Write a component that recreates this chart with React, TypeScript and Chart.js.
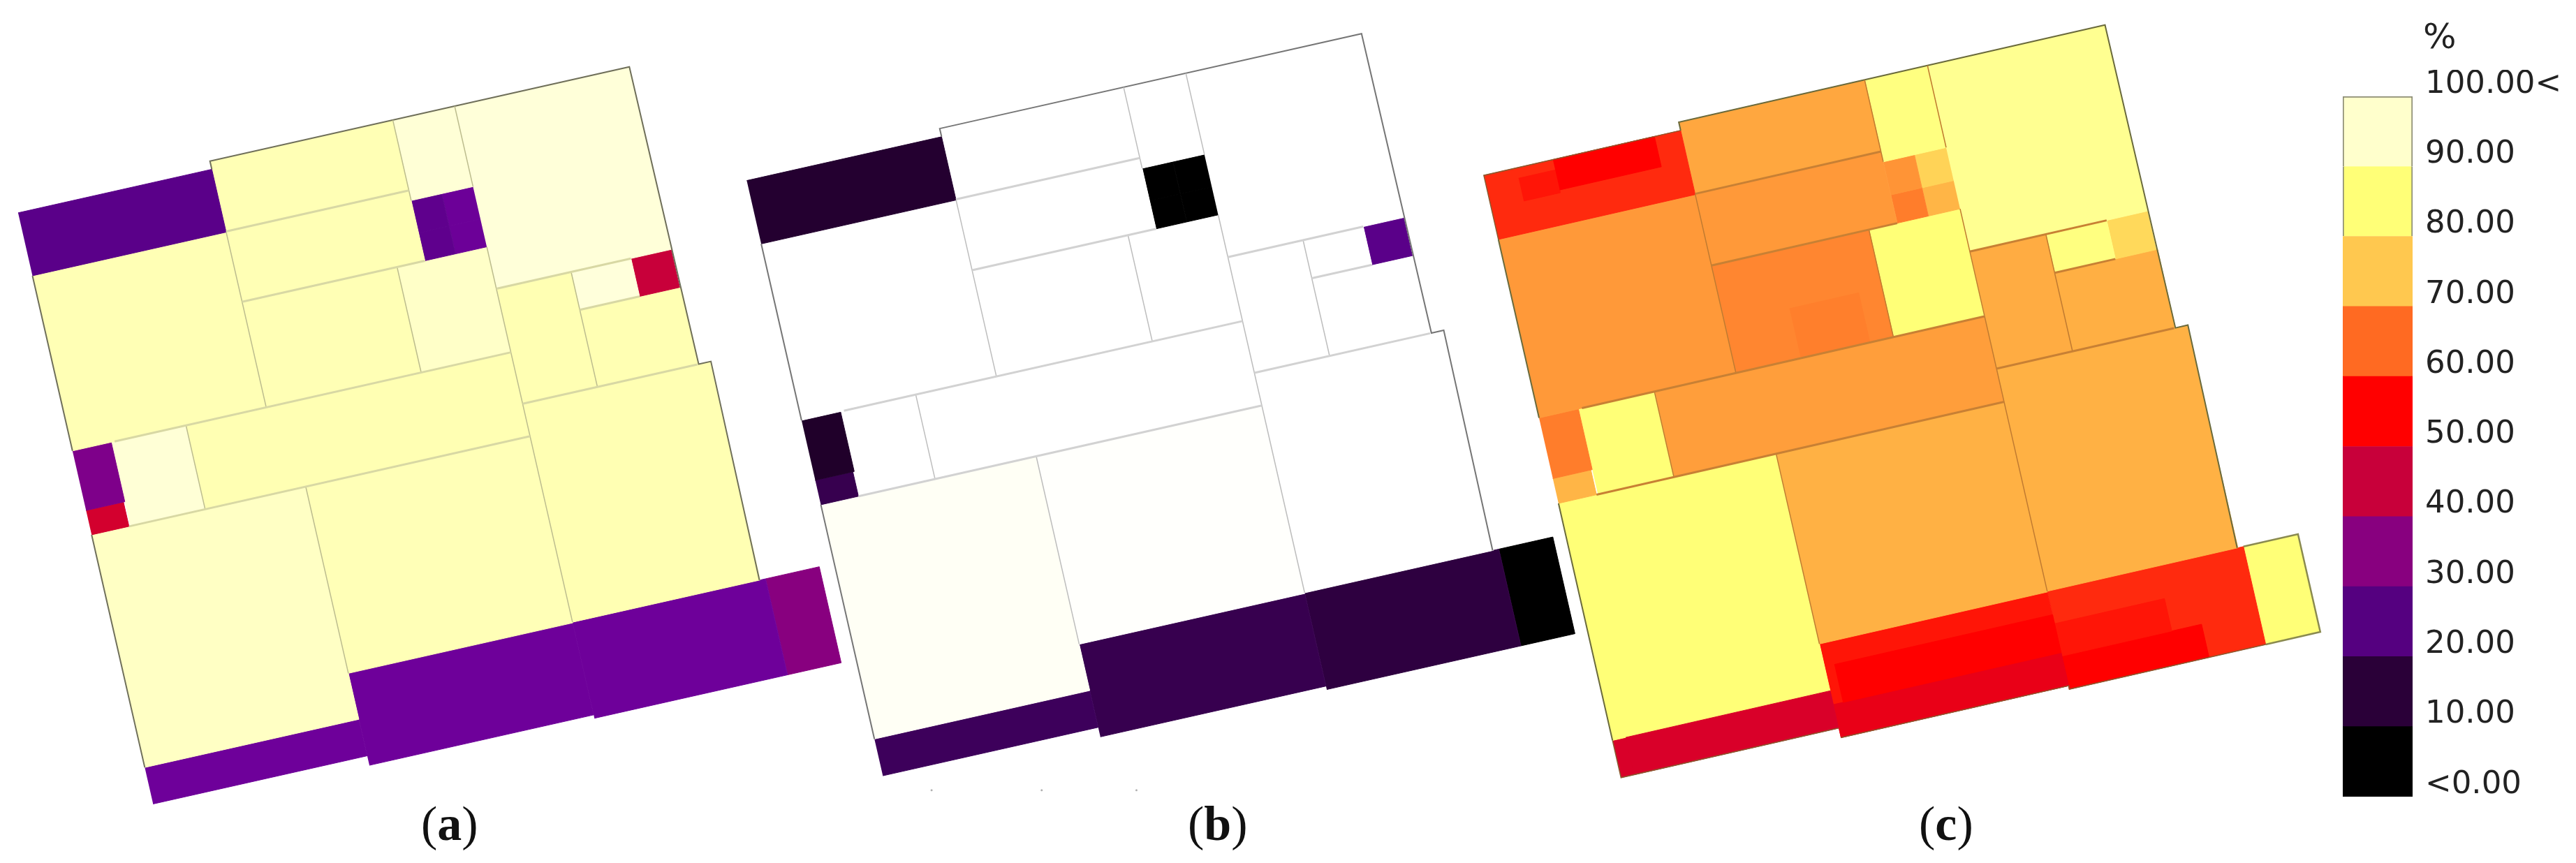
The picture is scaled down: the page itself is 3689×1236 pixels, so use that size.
import React, { useEffect, useRef } from "react";
import { Chart, registerables } from "chart.js";

Chart.register(...registerables);

const W = 3689;
const H = 1236;

// Floor-plan rooms in plan units: [u0, v0, u1, v1]
const rooms: number[][] = [
  [1, 0, 286, 93],
  [286, -12, 555, 92],
  [555, -12, 646, 107],
  [646, -12, 903, 258],
  [286, 92, 555, 196],
  [555, 107, 600, 155],
  [555, 155, 600, 196],
  [600, 107, 646, 155],
  [600, 155, 646, 196],
  [1, 93, 286, 352],
  [286, 196, 514, 352],
  [514, 196, 646, 352],
  [646, 258, 756, 428],
  [756, 258, 844, 314],
  [844, 258, 903, 314],
  [756, 314, 905, 428],
  [1, 352, 58, 440],
  [1, 440, 56, 476],
  [58, 352, 168, 476],
  [168, 352, 646, 476],
  [1, 476, 316, 820],
  [316, 476, 646, 752],
  [646, 428, 922, 751],
  [1, 820, 316, 874],
  [316, 752, 646, 888],
  [646, 751, 930, 893],
  [930, 751, 1009, 893],
];

// Percent value of each room, one list per panel
const valuesA = [21, 87.3, 92, 92.5, 87.3, 22, 22, 24.5, 24.5, 87.3, 87.3, 89.5, 87, 93, 40, 87, 28, 42, 92, 87, 89, 87.5, 87, 25, 25, 25, 30];
const valuesB = [8.5, 100, 100, 100, 100, 0, 0, 0, 0, 100, 100, 100, 100, 100, 21, 100, 7.5, 13, 100, 100, 98, 99.5, 100, 14.5, 13, 11, 0];
const valuesC = [54, 66.5, 81, 83, 65, 64.5, 62, 72, 68, 65, 63, 80, 67, 81, 73, 67.3, 62, 68, 80, 65.5, 80, 67.5, 67.5, 43, 52, 54, 80];

// Slightly different zones inside rooms of panel (c): [u0, v0, u1, v1, value]
const patchesC: number[][] = [
  [101, 0, 248, 44, 50],
  [48, 15, 101, 48, 52],
  [380, 280, 480, 352, 62.2],
  [20, 820, 316, 874, 43],
  [330, 785, 646, 840, 50],
  [316, 840, 646, 888, 46],
  [645, 798, 805, 845, 52],
  [645, 845, 848, 893, 50],
];

// Walls in plan units
const outerLines: number[][][] = [
  [[286, 0], [286, -12], [903, -12], [905, 428], [923, 428], [921, 751]],
  [[1, 93], [1, 352]],
  [[1, 476], [1, 820]],
];
const extraOutlinesC: number[][][] = [
  [[1, 93], [1, 0], [286, 0]],
  [[1, 820], [1, 874], [316, 874]],
  [[316, 888], [646, 888], [646, 893], [930, 893]],
];
const endOutlineC: number[][] = [[930, 751], [1009, 751], [1009, 893], [930, 893]];
const crossWalls: number[][] = [
  [286, 92, 555, 92],
  [286, 196, 555, 196],
  [63, 352, 646, 352],
  [56, 476, 646, 476],
  [646, 258, 844, 258],
  [756, 314, 844, 314],
  [646, 428, 903, 428],
];
const alongWalls: number[][] = [
  [286, 93, 286, 352],
  [555, -12, 555, 107],
  [646, -12, 646, 107],
  [646, 196, 646, 751],
  [514, 196, 514, 352],
  [168, 352, 168, 476],
  [756, 258, 756, 428],
  [316, 476, 316, 752],
];

// Where each plan sits on the page: origin, u axis, v axis
const panels = [
  { values: valuesA, o: [21, 303], eu: [0.9755, -0.2203], ev: [0.2217, 0.975], outer: "#6f6f5a", cross: "#d8d8a4", along: "#bcbc8e" },
  { values: valuesB, o: [1066.7, 256.5], eu: [0.9812, -0.2217], ev: [0.2235, 0.9817], outer: "#757575", cross: "#d2d2d2", along: "#bdbdbd" },
  { values: valuesC, o: [2124.5, 249], eu: [0.9914, -0.2271], ev: [0.2253, 0.9934], outer: "#6a6a3c", cross: "#c88034", along: "#c07a30" },
];

// Colour ramp
const rampValues = [0, 10, 20, 25, 30, 40, 50, 60, 70, 80, 90, 100];
const rampColors = [
  [0, 0, 0], [42, 0, 56], [85, 0, 133], [110, 0, 154], [136, 0, 127], [200, 0, 58],
  [255, 0, 0], [255, 106, 34], [255, 200, 79], [255, 255, 119], [255, 255, 204], [255, 255, 255],
];

// Legend
const legendSteps = [10, 10, 10, 10, 10, 10, 10, 10, 10, 10];
const legendColors = ["#000000", "#2a0038", "#550080", "#88007f", "#c8003a", "#ff0000", "#ff6a22", "#ffc84f", "#ffff77", "#ffffcc"];
const legendTicks = ["<0.00", "10.00", "20.00", "30.00", "40.00", "50.00", "60.00", "70.00", "80.00", "90.00", "100.00<"];

// Faint specks under panel (b), in page units
const specksX = [1333, 1491, 1627];
const specksY = [1135, 1135, 1135];

const captions = [
  { open: "(", mid: "a", close: ")", left: 603 },
  { open: "(", mid: "b", close: ")", left: 1701 },
  { open: "(", mid: "c", close: ")", left: 2748 },
];

function colorOf(v: number): string {
  let i = 0;
  while (i < rampValues.length - 2 && v > rampValues[i + 1]) i++;
  const t = (v - rampValues[i]) / (rampValues[i + 1] - rampValues[i]);
  const c = rampColors[i].map((a, k) => Math.round(a + (rampColors[i + 1][k] - a) * t));
  return `rgb(${c[0]},${c[1]},${c[2]})`;
}

type Panel = (typeof panels)[number];
const place = (p: Panel, u: number, v: number) => ({
  x: p.o[0] + u * p.eu[0] + v * p.ev[0],
  y: p.o[1] + u * p.eu[1] + v * p.ev[1],
});
const rect = (p: Panel, r: number[]) => [
  place(p, r[0], r[1]),
  place(p, r[2], r[1]),
  place(p, r[2], r[3]),
  place(p, r[0], r[3]),
];
const fillSet = (data: any[], value: number, order: number) => {
  const color = colorOf(value);
  return {
    data,
    showLine: true,
    fill: "shape",
    backgroundColor: color,
    borderColor: color,
    borderWidth: 1,
    pointRadius: 0,
    tension: 0,
    order,
  };
};
const lineSet = (data: any[], color: string, width: number) => ({
  data,
  showLine: true,
  fill: false,
  borderColor: color,
  borderWidth: width,
  pointRadius: 0,
  tension: 0,
  order: 0,
});

function buildDatasets() {
  const sets: any[] = [];
  panels.forEach((p, n) => {
    rooms.forEach((r, i) => sets.push(fillSet(rect(p, r), p.values[i], 3)));
    if (n === 2) patchesC.forEach((r) => sets.push(fillSet(rect(p, r), r[4], 2)));
    crossWalls.forEach((w) =>
      sets.push(lineSet([place(p, w[0], w[1]), place(p, w[2], w[3])], p.cross, 3))
    );
    alongWalls.forEach((w) =>
      sets.push(lineSet([place(p, w[0], w[1]), place(p, w[2], w[3])], p.along, 1.5))
    );
    outerLines.forEach((l) =>
      sets.push(lineSet(l.map((q) => place(p, q[0], q[1])), p.outer, 2))
    );
    if (n === 2) {
      extraOutlinesC.forEach((l) =>
        sets.push(lineSet(l.map((q) => place(p, q[0], q[1])), "#8a5a30", 1.5))
      );
      sets.push(lineSet(endOutlineC.map((q) => place(p, q[0], q[1])), "#8a8a50", 2.5));
    }
  });
  sets.push({
    data: specksX.map((x, i) => ({ x, y: specksY[i] })),
    showLine: false,
    pointRadius: 1.5,
    pointBackgroundColor: "#b0b0b0",
    pointBorderWidth: 0,
    order: 0,
  });
  return sets;
}

export default function App() {
  const planRef = useRef<HTMLCanvasElement>(null);
  const legendRef = useRef<HTMLCanvasElement>(null);

  useEffect(() => {
    const plan = new Chart(planRef.current!, {
      type: "scatter",
      data: { datasets: buildDatasets() },
      options: {
        animation: false,
        responsive: false,
        events: [],
        layout: { padding: 0 },
        plugins: { legend: { display: false }, tooltip: { enabled: false } },
        scales: {
          x: { type: "linear", min: 0, max: W, display: false },
          y: { type: "linear", min: 0, max: H, reverse: true, display: false },
        },
      },
    } as any);

    const legend = new Chart(legendRef.current!, {
      type: "bar",
      data: {
        labels: ["%"],
        datasets: legendSteps.map((s, i) => ({
          data: [s],
          backgroundColor: legendColors[i],
          borderColor: "#8c8c74",
          borderWidth: i >= 8 ? { left: 2, right: 2, top: i === 9 ? 2 : 0, bottom: 0 } : 0,
          borderSkipped: false,
          barPercentage: 1,
          categoryPercentage: 1,
        })),
      },
      options: {
        animation: false,
        responsive: false,
        events: [],
        layout: { padding: { left: 35, top: 38, bottom: 95, right: 0 } },
        plugins: { legend: { display: false }, tooltip: { enabled: false } },
        scales: {
          x: { stacked: true, display: false },
          y: {
            stacked: true,
            position: "right",
            min: 0,
            max: 100,
            afterFit: (s: any) => {
              s.width = 234;
              s.paddingTop = 0;
              s.paddingBottom = 0;
            },
            grid: { display: false, drawTicks: false },
            border: { display: false },
            ticks: {
              stepSize: 10,
              autoSkip: false,
              maxRotation: 0,
              crossAlign: "near",
              padding: 18,
              labelOffset: -17,
              color: "#222222",
              font: { family: "'DejaVu Sans'", size: 45 },
              callback: (v: number) => legendTicks[Math.round(v / 10)],
            },
          },
        },
      },
    } as any);

    return () => {
      plan.destroy();
      legend.destroy();
    };
  }, []);

  return (
    <div style={{ position: "absolute", left: 0, top: 0, width: W, height: H, overflow: "hidden", background: "#fff" }}>
      <canvas ref={planRef} width={W} height={H} style={{ position: "absolute", left: 0, top: 0 }} />
      <canvas ref={legendRef} width={369} height={1136} style={{ position: "absolute", left: 3320, top: 100 }} />
      <div style={{ position: "absolute", left: 3470, top: 22, fontFamily: "'DejaVu Sans'", fontSize: 50, lineHeight: "60px", color: "#222" }}>%</div>
      {captions.map((c) => (
        <div
          key={c.mid}
          style={{ position: "absolute", left: c.left, top: 1140, fontFamily: "'Liberation Serif'", fontSize: 70, lineHeight: "80px", color: "#111" }}
        >
          {c.open}
          <b>{c.mid}</b>
          {c.close}
        </div>
      ))}
    </div>
  );
}
